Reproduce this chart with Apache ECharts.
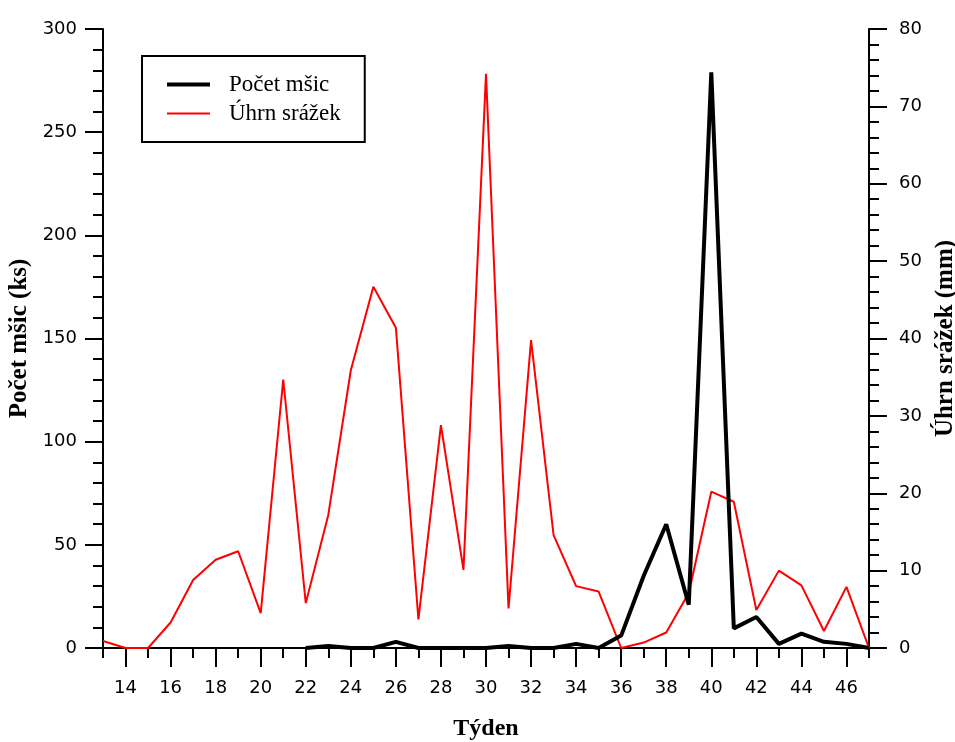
<!DOCTYPE html>
<html lang="cs">
<head>
<meta charset="utf-8" />
<title>Počet mšic a úhrn srážek</title>
<script src="https://cdn.jsdelivr.net/npm/echarts@6/dist/echarts.min.js"></script>
<style>
  html, body { margin: 0; padding: 0; background: #fff; }
  #chart { width: 955px; height: 742px; }
</style>
</head>
<body>
<div id="chart"></div>
<script>
// týdny 13..47
const weeks = [];
for (let w = 13; w <= 47; w++) weeks.push(String(w));

// počet mšic (ks) - data od 22. týdne
const aphids = [null, null, null, null, null, null, null, null, null,
  0, 1, 0, 0, 3, 0, 0, 0, 0, 1, 0, 0, 2, 0,
  6, 35, 60, 21, 279, 9.5, 15, 2, 7, 3, 2, 0];

// úhrn srážek (mm)
const rain = [0.9, 0, 0, 3.3, 8.8, 11.4, 12.5, 4.5, 34.7, 5.8, 17.2, 35.9, 46.7, 41.4,
  3.7, 28.8, 10.1, 74.2, 5.1, 39.8, 14.6, 8.0, 7.3, 0, 0.7, 2.0, 7.1, 20.2, 18.9,
  4.9, 10.0, 8.1, 2.2, 7.9, 0];

const chart = echarts.init(document.getElementById('chart'));

const tickFont = { fontFamily: 'DejaVu Sans', fontSize: 18, color: '#000' };
const nameFont = { fontFamily: 'Liberation Serif', fontSize: 25, fontWeight: 'bold', color: '#000' };
const axisLine = { show: true, lineStyle: { color: '#000', width: 2 } };

const option = {
  backgroundColor: '#fff',
  animation: false,
  grid: { left: 103, right: 86, top: 29, bottom: 94, containLabel: false, outerBoundsMode: 'none' },
  legend: {
    orient: 'vertical',
    left: 142,
    top: 56,
    padding: [17, 24, 17, 23],
    itemGap: 6,
    itemWidth: 43,
    itemHeight: 14,
    borderColor: '#000',
    borderWidth: 2,
    itemStyle: { opacity: 0 },
    textStyle: {
      fontFamily: 'Liberation Serif', fontSize: 23, color: '#000',
      padding: [0, 0, 0, 14]
    },
    data: [
      { name: 'Počet mšic', lineStyle: { width: 4, color: '#000' } },
      { name: 'Úhrn srážek', lineStyle: { width: 2, color: '#ff0000' } }
    ]
  },
  xAxis: [{
    type: 'category',
    data: weeks,
    boundaryGap: false,
    name: 'Týden',
    nameLocation: 'middle',
    nameGap: 69,
    nameTextStyle: Object.assign({}, nameFont, { fontSize: 24 }),
    axisLine: axisLine,
    axisTick: {
      length: 19,
      interval: function (i) { return i % 2 === 1; },
      lineStyle: { color: '#000', width: 2 }
    },
    axisLabel: Object.assign({ margin: 31, interval: function (i) { return i % 2 === 1; } }, tickFont),
    splitLine: { show: false }
  }, {
    type: 'category',
    data: weeks,
    boundaryGap: false,
    position: 'bottom',
    axisLine: { show: false },
    axisTick: { length: 10, interval: 0, lineStyle: { color: '#000', width: 2 } },
    axisLabel: { show: false },
    splitLine: { show: false }
  }],
  yAxis: [{
    type: 'value',
    min: 0, max: 300, interval: 50,
    name: 'Počet mšic (ks)',
    nameLocation: 'middle',
    nameRotate: 90,
    nameGap: 64,
    nameTextStyle: nameFont,
    axisLine: axisLine,
    axisTick: { show: true, length: 18, lineStyle: { color: '#000', width: 2 } },
    minorTick: { show: true, splitNumber: 5, length: 10, lineStyle: { color: '#000', width: 2 } },
    axisLabel: Object.assign({ margin: 26 }, tickFont),
    splitLine: { show: false }
  }, {
    type: 'value',
    position: 'right',
    min: 0, max: 80, interval: 10,
    name: 'Úhrn srážek (mm)',
    nameLocation: 'middle',
    nameRotate: 90,
    nameGap: 58,
    nameTextStyle: nameFont,
    axisLine: axisLine,
    axisTick: { show: true, length: 18, lineStyle: { color: '#000', width: 2 } },
    minorTick: { show: true, splitNumber: 5, length: 10, lineStyle: { color: '#000', width: 2 } },
    axisLabel: Object.assign({ margin: 30 }, tickFont),
    splitLine: { show: false }
  }],
  series: [{
    name: 'Počet mšic',
    type: 'line',
    xAxisIndex: 0,
    yAxisIndex: 0,
    data: aphids,
    symbol: 'none',
    color: '#000',
    lineStyle: { color: '#000', width: 4 },
    z: 3
  }, {
    name: 'Úhrn srážek',
    type: 'line',
    xAxisIndex: 0,
    yAxisIndex: 1,
    data: rain,
    symbol: 'none',
    color: '#ff0000',
    lineStyle: { color: '#ff0000', width: 2 },
    z: 2
  }]
};

chart.setOption(option);
window.onresize = function () { chart.resize(); };
</script>
</body>
</html>
